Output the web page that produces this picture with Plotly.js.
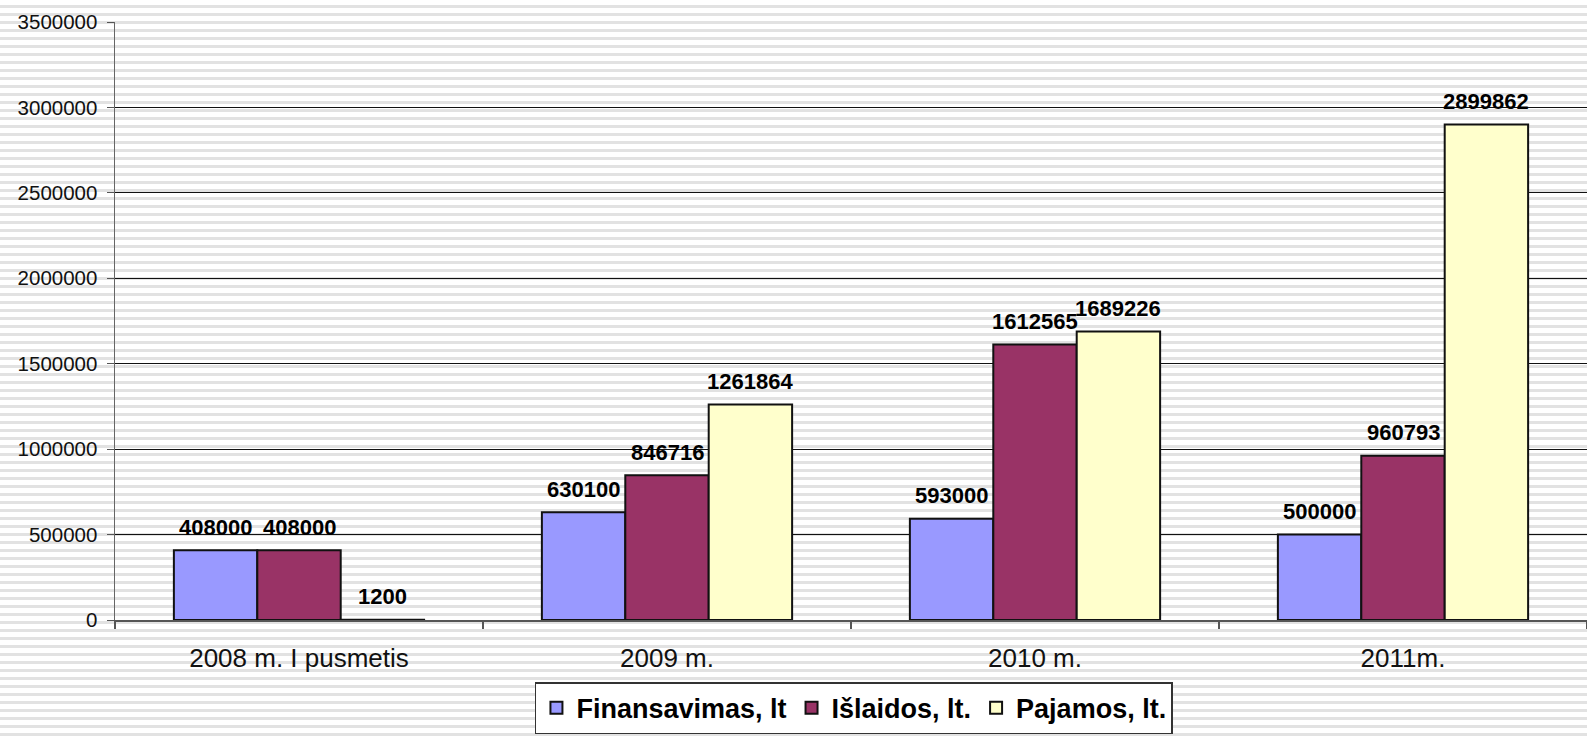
<!DOCTYPE html>
<html>
<head>
<meta charset="utf-8">
<script src="https://cdn.plot.ly/plotly-3.0.1.min.js"></script>
<style>
  html, body { margin: 0; padding: 0; }
  body {
    width: 1587px; height: 736px; overflow: hidden;
    background: repeating-linear-gradient(to bottom, #ffffff 0px, #ffffff 5px, #e2e2e2 5px, #e2e2e2 8px);
  }
  #chart { width: 1587px; height: 736px; }
</style>
</head>
<body>
<div id="chart"></div>
<script>
const categories = ["2008 m. I pusmetis", "2009 m.", "2010 m.", "2011m."];
const finansavimas = [408000, 630100, 593000, 500000];
const islaidos = [408000, 846716, 1612565, 960793];
const pajamos = [1200, 1261864, 1689226, 2899862];
const seriesNames = ["Finansavimas, lt", "Išlaidos, lt.", "Pajamos, lt."];
const yTicks = [0, 500000, 1000000, 1500000, 2000000, 2500000, 3000000, 3500000];

const allSeries = [finansavimas, islaidos, pajamos];
const colors = ["#9999FF", "#993366", "#FFFFCC"];
const bargap = 0.32;
const barW = (1 - bargap) / allSeries.length;

const traces = allSeries.map((vals, i) => ({
  type: "bar",
  name: seriesNames[i],
  x: categories,
  y: vals,
  marker: { color: colors[i], line: { color: "#111111", width: 2 } },
  hoverinfo: "y"
}));

const annotations = [];
allSeries.forEach((vals, i) => {
  vals.forEach((v, j) => {
    annotations.push({
      x: j + (i - (allSeries.length - 1) / 2) * barW,
      y: v,
      xref: "x", yref: "y",
      text: String(v),
      showarrow: false,
      yanchor: "middle",
      yshift: 23,
      font: { family: "Arial, 'Liberation Sans', sans-serif", size: 22, color: "#000", weight: "bold" }
    });
  });
});

const layout = {
  width: 1587, height: 736,
  margin: { l: 115, r: 0, t: 21.5, b: 116 },
  paper_bgcolor: "rgba(0,0,0,0)",
  plot_bgcolor: "rgba(0,0,0,0)",
  barmode: "group",
  bargap: bargap,
  bargroupgap: 0,
  showlegend: true,
  font: { family: "Arial, 'Liberation Sans', sans-serif", color: "#000" },
  xaxis: {
    type: "category",
    showgrid: false,
    showline: true, linecolor: "#555", linewidth: 1.5,
    ticks: "outside", ticklen: 7, tickcolor: "#555", tickwidth: 1.5,
    tickson: "boundaries",
    ticklabelstandoff: 14,
    tickfont: { size: 26, color: "#111" },
    zeroline: false,
    fixedrange: true
  },
  yaxis: {
    range: [0, 3500000],
    tickvals: yTicks,
    ticktext: yTicks.map(String),
    showgrid: true, gridcolor: "#111", gridwidth: 1,
    showline: true, linecolor: "#666", linewidth: 1.5,
    ticks: "outside", ticklen: 7, tickcolor: "#555", tickwidth: 1,
    ticklabelstandoff: 5,
    tickfont: { size: 20.5, color: "#111" },
    zeroline: false,
    fixedrange: true
  },
  legend: {
    orientation: "h",
    x: 0.502, xanchor: "center",
    y: -0.104, yanchor: "top",
    bgcolor: "#ffffff",
    bordercolor: "#333", borderwidth: 1.5,
    font: { size: 27, color: "#000", weight: "bold" },
    traceorder: "normal"
  },
  annotations: annotations
};

Plotly.newPlot("chart", traces, layout, { displayModeBar: false, staticPlot: true });
</script>
</body>
</html>
